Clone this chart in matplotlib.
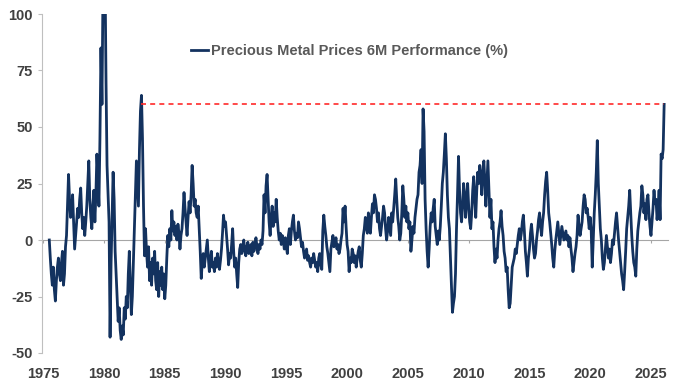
import numpy as np
import matplotlib.pyplot as plt

# 6M performance (%), monthly, starting Jul 1975
y1975 = [0, -8, -15, -20, -12, -22]
y1976 = [-27, -18, -12, -8, -15, -18, -10, -5, -20, -15, -3, 2]
y1977 = [15, 29, 18, 10, 12, 20, 8, -4, 2, 8, 14, 10]
y1978 = [18, 23, 12, 5, 10, 2, 8, 15, 25, 35, 18, 10]
y1979 = [5, 15, 22, 8, 20, 38, 28, 15, 45, 85, 60, 110]
y1980 = [140, 120, 70, 33, 20, 8, -43, -10, 10, 30, 18, -5]
y1981 = [-15, -24, -36, -30, -40, -44, -38, -42, -30, -35, -25, -30]
y1982 = [-15, -5, -20, -33, -25, -10, 5, 20, 35, 25, 15, 40]
y1983 = [57, 64, 45, 15, -7, 5, -5, -12, -3, -18, -10, -20]
y1984 = [-8, -15, -5, -18, -22, -10, -25, -14, -20, -12, -22, -15]
y1985 = [-26, -20, -8, 2, -3, 5, 0, 13, 4, 8, 2, 6]
y1986 = [0, 7, 3, -4, 2, 5, 12, 21, 14, 8, 2, 10]
y1987 = [17, 12, 20, 33, 25, 15, 18, 12, 10, 15, 5, -5]
y1988 = [-17, -10, -6, -12, -8, -4, 0, -8, -14, -9, -5, -12]
y1989 = [-10, -14, -8, -12, -6, -10, -13, -9, -4, 3, 11, 6]
y1990 = [8, 2, -4, -11, -6, -8, -2, 5, -5, -12, -8, -15]
y1991 = [-21, -10, -4, -2, -6, -3, 0, -5, -7, -3, -1, -6]
y1992 = [-4, -2, -7, -1, -5, -3, 1, -3, -6, -2, -4, 0]
y1993 = [-2, 4, 20, 12, 24, 29, 18, 8, 2, 10, 15, 6]
y1994 = [12, 8, 18, 10, 4, 0, 3, -2, 2, 0, -4, 1]
y1995 = [-3, -6, 2, 5, -2, 4, 8, 11, 4, 0, 3, 1]
y1996 = [8, 5, 1, -3, -1, -5, -8, -6, -4, -9, -7, -10]
y1997 = [-12, -8, -10, -6, -9, -12, -10, -14, -8, -6, -11, -13]
y1998 = [4, 11, 6, 2, -3, -6, -10, -14, -4, -1, 2, -3]
y1999 = [-2, 1, -4, -2, -6, -4, 0, 3, 14, 8, 15, 6]
y2000 = [-2, -5, -14, -8, -10, -4, -6, -10, -7, -12, -8, -5]
y2001 = [-3, -9, -12, -6, 2, 5, 10, 6, 3, 12, 8, 3]
y2002 = [10, 16, 12, 20, 18, 14, 8, 12, 5, 2, 6, 10]
y2003 = [15, 12, 5, 0, 4, 10, 6, 2, 12, 8, 14, 20]
y2004 = [27, 18, 10, 6, 0, 3, 12, 24, 18, 10, 15, 8]
y2005 = [12, 5, 8, -5, 0, 6, 3, 10, 14, 18, 20, 30]
y2006 = [33, 40, 25, 58, 48, 18, 5, -5, -12, -4, 6, 12]
y2007 = [8, 14, 18, 6, 2, -2, 4, 0, 6, 15, 25, 30]
y2008 = [38, 47, 36, 20, 10, 5, -8, -20, -32, -28, -25, -15]
y2009 = [5, 20, 37, 22, 12, 8, 15, 25, 20, 10, 18, 25]
y2010 = [15, 8, 5, 12, 22, 28, 18, 10, 22, 30, 25, 33]
y2011 = [28, 20, 30, 35, 26, 15, 25, 35, 22, 10, 18, 5]
y2012 = [8, -3, -10, -4, -8, 0, 5, 8, 13, 6, 2, -5]
y2013 = [-8, -14, -12, -22, -30, -28, -20, -12, -10, -8, -4, -6]
y2014 = [-2, 2, 5, 0, 3, 8, 11, 4, -5, -10, -16, -8]
y2015 = [-4, 3, 7, 2, -4, -8, -6, 0, 4, 9, 12, 6]
y2016 = [2, 8, 12, 20, 26, 30, 22, 12, 8, 3, -2, -8]
y2017 = [-12, -5, 0, 4, 8, 3, -2, 2, 6, 3, 0, 2]
y2018 = [4, 0, 2, -3, 1, -4, -8, -14, -10, -6, -3, 2]
y2019 = [11, 6, 2, 5, 8, 15, 20, 18, 12, 14, 10, 5]
y2020 = [10, 4, -12, 0, 12, 20, 30, 44, 25, 15, 5, 0]
y2021 = [-8, -13, -10, -4, 2, -3, -8, -4, -10, -6, 0, -2]
y2022 = [3, 8, 12, 6, 0, -5, -10, -15, -18, -22, -14, -5]
y2023 = [5, 10, 15, 22, 12, 2, -5, -10, -12, -16, -4, 4]
y2024 = [8, 12, 15, 24, 20, 12, 16, 9, 18, 20, 12, 6]
y2025 = [2, 8, 14, 22, 16, 18, 9, 14, 22, 9, 38, 36]
y2026 = [40, 60]

perf = np.array(y1975 + y1976 + y1977 + y1978 + y1979 + y1980 + y1981 + y1982
                + y1983 + y1984 + y1985 + y1986 + y1987 + y1988 + y1989 + y1990
                + y1991 + y1992 + y1993 + y1994 + y1995 + y1996 + y1997 + y1998
                + y1999 + y2000 + y2001 + y2002 + y2003 + y2004 + y2005 + y2006
                + y2007 + y2008 + y2009 + y2010 + y2011 + y2012 + y2013 + y2014
                + y2015 + y2016 + y2017 + y2018 + y2019 + y2020 + y2021 + y2022
                + y2023 + y2024 + y2025 + y2026, dtype=float)
t = 1975 + (6 + np.arange(len(perf))) / 12.0

peak_1983 = 1983 + 1 / 12.0
years = list(range(1975, 2026, 5))
yticks = [-50, -25, 0, 25, 50, 75, 100]

plt.rcParams['font.family'] = ['Liberation Sans', 'DejaVu Sans']
plt.rcParams['axes.unicode_minus'] = False

fig = plt.figure(figsize=(6.78, 3.86), dpi=100)
ax = fig.add_axes([42 / 678, 1 - 353 / 386, 626 / 678, 339 / 386])

ax.plot(t, perf, color='#13325f', lw=2.0, label='Precious Metal Prices 6M Performance (%)')
ax.hlines(perf[-1], peak_1983, t[-1], colors='#ff2a2a', linestyles=(0, (3, 2.5)), lw=1.2)

ax.set_xlim(1974.9, 2026.4)
ax.set_ylim(-50, 100)
ax.set_xticks(years)
ax.set_yticks(yticks)

for s in ['top', 'right', 'bottom']:
    ax.spines[s].set_visible(False)
ax.spines['left'].set_color('#bfbfbf')
ax.tick_params(axis='y', colors='#bfbfbf', length=3, labelcolor='#404040', labelsize=10.5)
ax.tick_params(axis='x', length=0, labelcolor='#404040', labelsize=10.5, pad=10)
for lab in ax.get_xticklabels() + ax.get_yticklabels():
    lab.set_fontweight('bold')

# zero line with small ticks
zero = ax.secondary_xaxis(50 / 150)
zero.spines['bottom'].set_color('#a6a6a6')
zero.set_xticks(years)
zero.tick_params(axis='x', colors='#a6a6a6', length=2, labelbottom=False)
ax.set_zorder(1)
ax.patch.set_visible(False)

leg = ax.legend(loc='center left', bbox_to_anchor=(0.238, 0.89), frameon=False,
                handlelength=1.2, handletextpad=0.2, borderaxespad=0, borderpad=0,
                prop={'weight': 'bold', 'size': 10.5})
for txt in leg.get_texts():
    txt.set_color('#595959')

fig.savefig('out.png', dpi=100)
